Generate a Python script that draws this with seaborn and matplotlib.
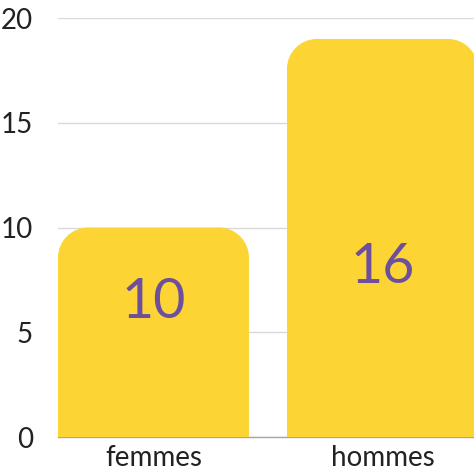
import matplotlib
matplotlib.use("Agg")
import matplotlib.pyplot as plt
import seaborn as sns
import pandas as pd
from matplotlib.path import Path
from matplotlib.patches import PathPatch

# Data
categories = ["femmes", "hommes"]
bar_heights = [10, 19]
value_labels = ["10", "16"]
label_y = [6.4, 8.1]
y_ticks = [0, 5, 10, 15, 20]

YELLOW = "#FCD535"
PURPLE = "#6E4F9E"

sns.set_theme(style="white")
plt.rcParams["font.family"] = ["Lato", "DejaVu Sans"]

df = pd.DataFrame({"genre": categories, "n": bar_heights})

fig = plt.figure(figsize=(4.74, 4.74), dpi=100)
ax = fig.add_axes([0.1224, 0.078, 0.8776, 0.884])

sns.barplot(data=df, x="genre", y="n", color=YELLOW, saturation=1,
            width=0.834, ax=ax, zorder=2)

ax.set_xlim(-0.417, 1.40)
ax.set_ylim(0, 20)
ax.set_yticks(y_ticks)
ax.yaxis.grid(True, color="#d9d9d9", lw=1, zorder=0)
ax.xaxis.grid(False)
for s in ["left", "right", "top"]:
    ax.spines[s].set_visible(False)
ax.spines["bottom"].set_color("#a6a6a6")
ax.spines["bottom"].set_linewidth(1)
ax.spines["bottom"].set_zorder(1)
ax.set_xlabel("")
ax.set_ylabel("")
ax.tick_params(axis="both", length=0, labelsize=20, colors="#222222")
ax.tick_params(axis="y", pad=18)
ax.tick_params(axis="x", pad=6)

# replace seaborn rectangles with rounded-top bars
fig.canvas.draw()
px_x = ax.transData.transform((1, 0))[0] - ax.transData.transform((0, 0))[0]
px_y = ax.transData.transform((0, 1))[1] - ax.transData.transform((0, 0))[1]
r_px = 30
rx, ry = r_px / px_x, r_px / px_y
k = 0.5523
for p in list(ax.patches):
    x0, y0 = p.get_x(), p.get_y()
    w, h = p.get_width(), p.get_height()
    x1, y1 = x0 + w, y0 + h
    verts = [
        (x0, y0), (x0, y1 - ry),
        (x0, y1 - ry + k * ry), (x0 + rx - k * rx, y1), (x0 + rx, y1),
        (x1 - rx, y1),
        (x1 - rx + k * rx, y1), (x1, y1 - ry + k * ry), (x1, y1 - ry),
        (x1, y0), (x0, y0),
    ]
    codes = [Path.MOVETO, Path.LINETO,
             Path.CURVE4, Path.CURVE4, Path.CURVE4,
             Path.LINETO,
             Path.CURVE4, Path.CURVE4, Path.CURVE4,
             Path.LINETO, Path.CLOSEPOLY]
    ax.add_patch(PathPatch(Path(verts, codes), facecolor=YELLOW,
                           edgecolor="none", zorder=2))
    p.set_visible(False)

for i, (lab, yy) in enumerate(zip(value_labels, label_y)):
    ax.text(i, yy, lab, ha="center", va="center", fontsize=40,
            color=PURPLE, zorder=3)

fig.savefig("out.png", dpi=100)
